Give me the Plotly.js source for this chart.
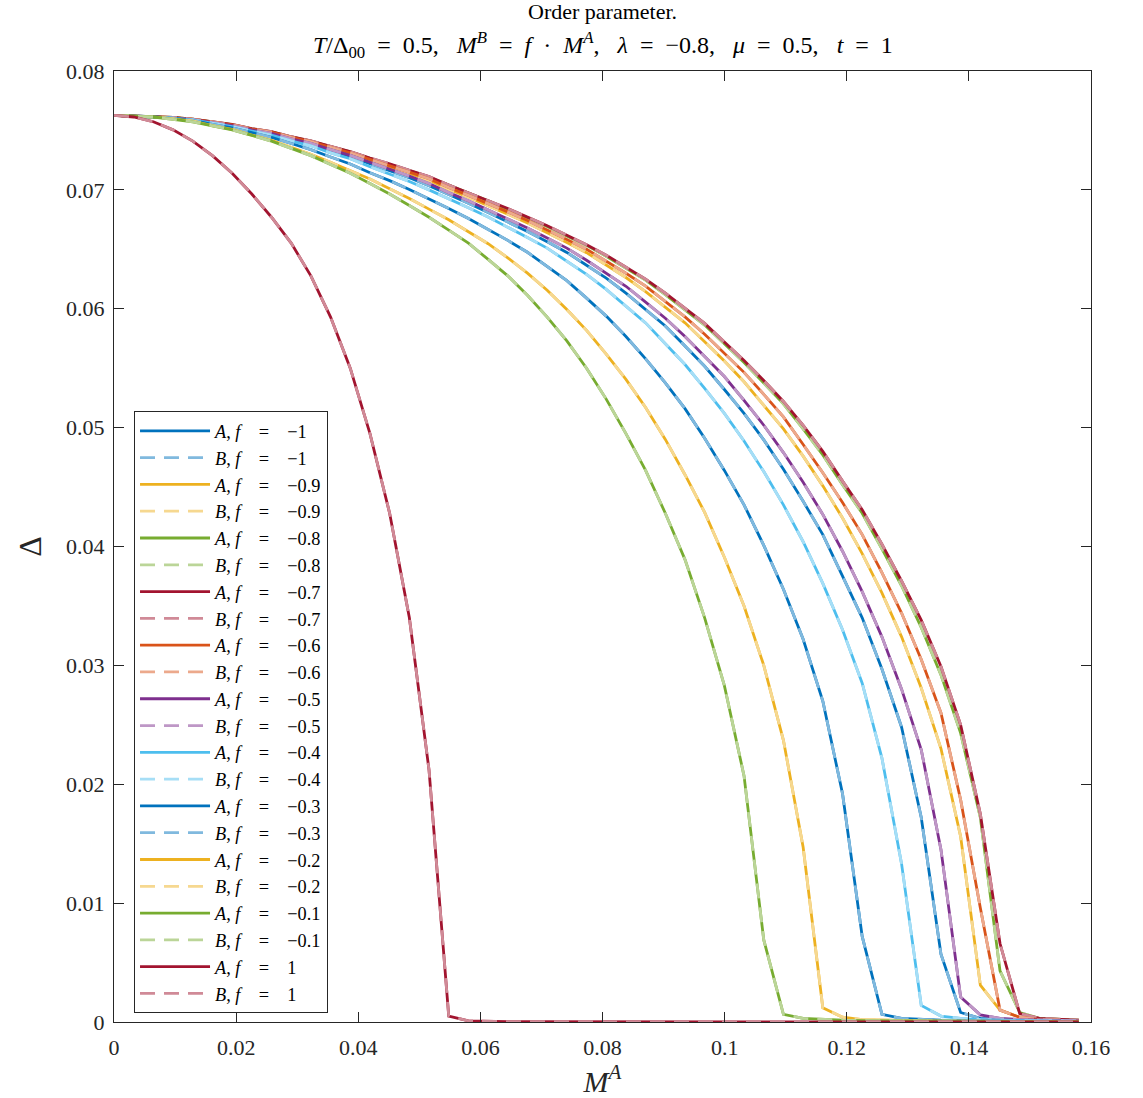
<!DOCTYPE html>
<html>
<head>
<meta charset="utf-8">
<script src="https://cdn.plot.ly/plotly-3.0.1.min.js"></script>
<style>html,body{margin:0;padding:0;background:#fff;}#chart{width:1143px;height:1098px;}</style>
</head>
<body>
<div id="chart"></div>
<script>
// M^A grid
const xs = [0, 0.00322, 0.00645, 0.00967, 0.0129, 0.01612, 0.01935, 0.02257, 0.0258, 0.02902,
  0.03224, 0.03547, 0.03869, 0.04192, 0.04514, 0.04837, 0.05159, 0.05482, 0.05804, 0.06127,
  0.06449, 0.06771, 0.07094, 0.07416, 0.07739, 0.08061, 0.08384, 0.08706, 0.09029, 0.09351,
  0.09673, 0.09996, 0.10318, 0.10641, 0.10963, 0.11286, 0.11608, 0.11931, 0.12253, 0.12576,
  0.12898, 0.1322, 0.13543, 0.13865, 0.14188, 0.1451, 0.14833, 0.15155, 0.15478, 0.158];

// Order parameter for each f (A and B sublattices coincide)
const dM10 = [0.07627, 0.07621, 0.07616, 0.07606, 0.0759, 0.07564, 0.07538, 0.07501, 0.0747, 0.07423,
  0.07386, 0.07329, 0.07281, 0.0722, 0.07161, 0.07103, 0.07036, 0.06958, 0.06887, 0.0681,
  0.06733, 0.0665, 0.06564, 0.06474, 0.06366, 0.06257, 0.06131, 0.05995, 0.05855, 0.05686,
  0.05516, 0.05321, 0.0512, 0.04897, 0.0465, 0.0438, 0.041, 0.0375, 0.034, 0.0297,
  0.0248, 0.0172, 0.0057, 0.0008, 0.0003, 0.0002, 0.00015, 0.00012, 0.0001, 0.00008];
const dM09 = [0.07627, 0.07622, 0.07616, 0.07608, 0.07593, 0.07567, 0.07545, 0.07509, 0.07483, 0.07437,
  0.07401, 0.07351, 0.07304, 0.07248, 0.07195, 0.07139, 0.07081, 0.07005, 0.06939, 0.06869,
  0.06795, 0.06722, 0.06641, 0.06558, 0.06472, 0.06367, 0.06263, 0.06144, 0.06013, 0.05882,
  0.05723, 0.0556, 0.05386, 0.0519, 0.0499, 0.0476, 0.0451, 0.0424, 0.0394, 0.0361,
  0.0324, 0.0281, 0.023, 0.0156, 0.0031, 0.001, 0.0004, 0.0002, 0.00015, 0.0001];
const dM08 = [0.07627, 0.07622, 0.07617, 0.07609, 0.07594, 0.0757, 0.07549, 0.07514, 0.07489, 0.07446,
  0.07411, 0.07365, 0.0732, 0.07266, 0.07217, 0.07163, 0.07108, 0.07038, 0.06973, 0.06909,
  0.06838, 0.06766, 0.06693, 0.06613, 0.06533, 0.06442, 0.06342, 0.06241, 0.06119, 0.05992,
  0.05863, 0.05705, 0.05548, 0.05375, 0.052, 0.0499, 0.0477, 0.0452, 0.0428, 0.0398,
  0.0367, 0.0332, 0.0292, 0.0243, 0.0172, 0.0043, 0.0008, 0.0003, 0.0002, 0.00015];
const dM07 = [0.07627, 0.07622, 0.07617, 0.07609, 0.07594, 0.0757, 0.0755, 0.07515, 0.0749, 0.07447,
  0.07412, 0.07367, 0.07322, 0.07268, 0.0722, 0.07165, 0.07111, 0.07041, 0.06977, 0.06913,
  0.06843, 0.06771, 0.06699, 0.06619, 0.06539, 0.06451, 0.0635, 0.06249, 0.06131, 0.06004,
  0.05877, 0.05721, 0.05564, 0.05397, 0.0522, 0.0502, 0.048, 0.0455, 0.0431, 0.0402,
  0.0371, 0.0338, 0.0299, 0.025, 0.0175, 0.0066, 0.0007, 0.0003, 0.0002, 0.00015];
const dM06 = [0.07627, 0.07622, 0.07617, 0.07608, 0.07593, 0.07568, 0.07547, 0.07511, 0.07486, 0.07441,
  0.07405, 0.07357, 0.07312, 0.07256, 0.07205, 0.07149, 0.07094, 0.0702, 0.06954, 0.06887,
  0.06815, 0.06742, 0.06664, 0.06583, 0.06501, 0.06401, 0.06299, 0.06191, 0.06061, 0.05931,
  0.05786, 0.05625, 0.05465, 0.0528, 0.0509, 0.04858, 0.0462, 0.0437, 0.041, 0.0378,
  0.0344, 0.0305, 0.026, 0.0187, 0.0096, 0.001, 0.0004, 0.0002, 0.00015, 0.0001];
const dM05 = [0.07627, 0.07622, 0.07616, 0.07606, 0.07591, 0.07565, 0.07541, 0.07504, 0.07475, 0.07429,
  0.07392, 0.07338, 0.0729, 0.07232, 0.07175, 0.07117, 0.07054, 0.06977, 0.06909, 0.06834,
  0.06758, 0.06679, 0.06595, 0.0651, 0.06408, 0.06301, 0.06189, 0.06055, 0.0592, 0.05766,
  0.05599, 0.0543, 0.0523, 0.0502, 0.0479, 0.0454, 0.0427, 0.0396, 0.0362, 0.0324,
  0.028, 0.0229, 0.0145, 0.0021, 0.0006, 0.0003, 0.0002, 0.00015, 0.00012, 0.0001];
const dM04 = [0.07627, 0.07621, 0.07616, 0.07604, 0.07588, 0.0756, 0.07533, 0.07495, 0.0746, 0.07412,
  0.07371, 0.07311, 0.07262, 0.07194, 0.07134, 0.07071, 0.07, 0.06928, 0.0685, 0.06771,
  0.06688, 0.06599, 0.0651, 0.06401, 0.06289, 0.06163, 0.06022, 0.05881, 0.05706, 0.05531,
  0.0533, 0.0512, 0.04887, 0.0463, 0.0435, 0.0404, 0.0369, 0.033, 0.0285, 0.0222,
  0.0133, 0.0014, 0.0005, 0.0003, 0.0002, 0.00015, 0.00012, 0.0001, 0.00008, 0.00006];
const dM03 = [0.07627, 0.07621, 0.07615, 0.07601, 0.07584, 0.07552, 0.07522, 0.07482, 0.07441, 0.0739,
  0.07339, 0.07277, 0.07218, 0.07144, 0.07078, 0.07003, 0.06927, 0.06844, 0.06759, 0.06669,
  0.06575, 0.06475, 0.06355, 0.06236, 0.06089, 0.05938, 0.05766, 0.05579, 0.05377, 0.0516,
  0.04911, 0.0464, 0.0435, 0.0401, 0.0364, 0.0322, 0.027, 0.0192, 0.0072, 0.00065,
  0.0003, 0.0002, 0.00015, 0.00012, 0.0001, 0.00008, 0.00006, 0.00005, 0.00004, 0.00003];
const dM02 = [0.07627, 0.0762, 0.07614, 0.07597, 0.07579, 0.07541, 0.07509, 0.07461, 0.07416, 0.07357,
  0.073, 0.07231, 0.07162, 0.07091, 0.0701, 0.06928, 0.06838, 0.06748, 0.06648, 0.06547,
  0.06428, 0.063, 0.06155, 0.05993, 0.05818, 0.05618, 0.05406, 0.0517, 0.04901, 0.04604,
  0.04287, 0.0391, 0.035, 0.03, 0.0237, 0.0147, 0.0012, 0.0004, 0.0002, 0.00015,
  0.00012, 0.0001, 0.00008, 0.00007, 0.00006, 0.00005, 0.00004, 0.00003, 0.00003, 0.00002];
const dM01 = [0.07627, 0.0762, 0.07613, 0.07593, 0.07573, 0.07539, 0.07505, 0.07458, 0.0741, 0.07349,
  0.07288, 0.07214, 0.0714, 0.07053, 0.06965, 0.06868, 0.0677, 0.06661, 0.06552, 0.06415,
  0.06277, 0.06114, 0.0593, 0.0573, 0.055, 0.0524, 0.0495, 0.0464, 0.0428, 0.0389,
  0.034, 0.0283, 0.0207, 0.0069, 0.00065, 0.0003, 0.0002, 0.00015, 0.00012, 0.0001,
  0.00008, 0.00007, 0.00006, 0.00005, 0.00004, 0.00004, 0.00003, 0.00003, 0.00002, 0.00002];
const dP1 = [0.07627, 0.07613, 0.07573, 0.07505, 0.0741, 0.07288, 0.0714, 0.06965, 0.0677, 0.06552,
  0.06277, 0.0593, 0.055, 0.0495, 0.0428, 0.034, 0.0212, 0.0005, 0.0001, 0.00005,
  0.00003, 0.00002, 0.00002, 0.00002, 0.00002, 0.00002, 0.00001, 0.00001, 0.00001, 0.00001,
  0.00001, 0.00001, 0.00001, 0.00001, 0.00001, 0.00001, 0.00001, 0.00001, 0.00001, 0.00001,
  0.00001, 0.00001, 0.00001, 0.00001, 0.00001, 0.00001, 0.00001, 0.00001, 0.00001, 0.00001];

const fLabels = ['−1', '−0.9', '−0.8', '−0.7', '−0.6', '−0.5', '−0.4', '−0.3', '−0.2', '−0.1', '1'];
const series = [dM10, dM09, dM08, dM07, dM06, dM05, dM04, dM03, dM02, dM01, dP1];
const colorsA = ['#0072BD', '#EDB120', '#77AC30', '#A2142F', '#D95319', '#7E2F8E', '#4DBEEE', '#0072BD', '#EDB120', '#77AC30', '#A2142F'];
const colorsB = ['#80B9DE', '#F6D890', '#BBD598', '#D08A97', '#ECA98C', '#BE97C6', '#A6DEF6', '#80B9DE', '#F6D890', '#BBD598', '#D08A97'];

const xTicks = [0, 0.02, 0.04, 0.06, 0.08, 0.1, 0.12, 0.14, 0.16];
const xTickText = ['0', '0.02', '0.04', '0.06', '0.08', '0.1', '0.12', '0.14', '0.16'];
const yTicks = [0, 0.01, 0.02, 0.03, 0.04, 0.05, 0.06, 0.07, 0.08];
const yTickText = ['0', '0.01', '0.02', '0.03', '0.04', '0.05', '0.06', '0.07', '0.08'];

const SP2 = '&nbsp;&nbsp;';
const SP3 = '&nbsp;&nbsp;&nbsp;';
const SP4 = '&nbsp;&nbsp;&nbsp;&nbsp;';
const titleLine1 = 'Order parameter.';
const titleLine2 = '<i>T</i>/Δ<sub>00</sub>' + SP2 + '=' + SP2 + '0.5,' + SP3 +
  '<i>M</i><sup><i>B</i></sup>' + SP2 + '=' + SP2 + '<i>f</i>' + SP2 + '·' + SP2 + '<i>M</i><sup><i>A</i></sup>,' + SP3 +
  '<i>λ</i>' + SP2 + '=' + SP2 + '−0.8,' + SP3 + '<i>μ</i>' + SP2 + '=' + SP2 + '0.5,' + SP3 +
  '<i>t</i>' + SP2 + '=' + SP2 + '1';

const FONT = '"Liberation Serif", "Times New Roman", serif';
const traces = [];
series.forEach((ys, i) => {
  traces.push({
    x: xs, y: ys, type: 'scatter', mode: 'lines',
    name: '<i>A</i>, <i>f</i>' + SP4 + '=' + SP4 + fLabels[i],
    line: {color: colorsA[i], width: 2.8}
  });
  traces.push({
    x: xs, y: ys, type: 'scatter', mode: 'lines',
    name: '<i>B</i>, <i>f</i>' + SP4 + '=' + SP4 + fLabels[i],
    line: {color: colorsB[i], width: 2.8, dash: '15px,9px'}
  });
});

const axisCommon = {
  showgrid: false, zeroline: false, showline: true, mirror: 'ticks',
  linecolor: '#262626', linewidth: 1, ticks: 'inside', ticklen: 10,
  tickcolor: '#262626', tickwidth: 1, automargin: false,
  tickfont: {family: FONT, size: 22, color: '#262626'}
};

const layout = {
  width: 1143, height: 1098,
  margin: {l: 114, r: 52, t: 71, b: 76, pad: 0},
  paper_bgcolor: '#fff', plot_bgcolor: '#fff',
  font: {family: FONT, color: '#262626'},
  xaxis: Object.assign({}, axisCommon, {
    range: [0, 0.16], tickvals: xTicks, ticktext: xTickText, ticklabelstandoff: 6,
    title: {text: '<i>M</i><sup><i>A</i></sup>', font: {family: FONT, size: 30, color: '#262626'}, standoff: 6}
  }),
  yaxis: Object.assign({}, axisCommon, {
    range: [0, 0.08], tickvals: yTicks, ticktext: yTickText, ticklabelstandoff: 4,
    title: {text: 'Δ', font: {family: FONT, size: 32, color: '#262626'}, standoff: 14}
  }),
  annotations: [
    {text: titleLine1, xref: 'paper', yref: 'paper', x: 0.5, y: (1022 - 12) / 951,
     xanchor: 'center', yanchor: 'middle', showarrow: false,
     font: {family: FONT, size: 22, color: '#000'}},
    {text: titleLine2, xref: 'paper', yref: 'paper', x: 0.5, y: (1022 - 45) / 951,
     xanchor: 'center', yanchor: 'middle', showarrow: false,
     font: {family: FONT, size: 24, color: '#000'}}
  ],
  showlegend: true,
  legend: {
    x: 0.0205, y: 0.642, xanchor: 'left', yanchor: 'top',
    bgcolor: '#fff', bordercolor: '#262626', borderwidth: 1,
    font: {family: FONT, size: 18.3, color: '#000'},
    itemwidth: 70, tracegroupgap: 0
  }
};

Plotly.newPlot('chart', traces, layout, {displayModeBar: false, staticPlot: true});
</script>
</body>
</html>
